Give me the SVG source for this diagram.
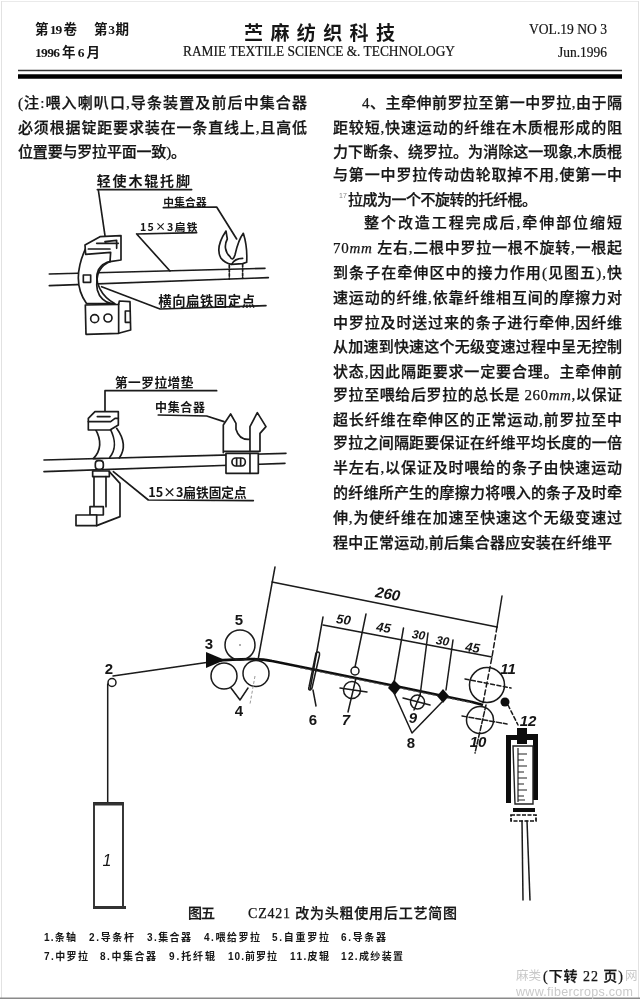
<svg xmlns="http://www.w3.org/2000/svg" width="640" height="1000" viewBox="0 0 640 1000">
<defs>
<filter id="scan" x="0" y="0" width="1" height="1"><feGaussianBlur stdDeviation="0.42"/></filter>
</defs>
<style>
text{fill:#141414}
.b{font-family:"Liberation Serif","Noto Sans CJK SC",serif;font-size:15px;font-weight:500;stroke:#141414;stroke-width:.25}
.b .m{font-style:italic}
.h{font-family:"Liberation Serif","Noto Sans CJK SC",serif;font-size:13.500px;font-weight:700}
.s{font-family:"Liberation Serif",serif;font-size:14px;font-weight:400;stroke:#141414;stroke-width:.2}
.t{font-family:"Noto Sans CJK SC",serif;font-size:19px;font-weight:700}
.c{font-family:"Liberation Serif","Noto Sans CJK SC",serif;font-size:14px;font-weight:500;stroke:#141414;stroke-width:.25}
.l{font-family:"Liberation Sans","Noto Sans CJK SC",sans-serif;font-size:10px;font-weight:700}
.n{font-family:"Liberation Sans",sans-serif;font-size:15px;font-weight:700;text-anchor:middle}
.i{font-style:italic}
.hw{font-family:"Noto Sans CJK SC",sans-serif;font-weight:700;font-size:42px}
.wm{font-family:"Liberation Sans","Noto Sans CJK SC",sans-serif;font-size:12.5px;fill:#c9c9c9}
.k{fill:none;stroke:#1a1a1a;stroke-width:1.5;stroke-linecap:round;stroke-linejoin:round}
.k3{fill:none;stroke:#1a1a1a;stroke-width:5;stroke-linecap:round;stroke-linejoin:round}
.w3{fill:#fff;stroke:#1a1a1a;stroke-width:5;stroke-linejoin:round}
.d{stroke-dasharray:5 3}
.f{fill:#111;stroke:none}
</style>
<rect width="640" height="1000" fill="#fff"/>
<g filter="url(#scan)">
<g id="page-frame">
<path d="M1 1H639" stroke="#d5d5d5" fill="none"/>
<path d="M1.500 1V998" stroke="#e2e2e2" fill="none"/>
<path d="M638.500 1V998" stroke="#e2e2e2" fill="none"/>
<path d="M0 998.500H640" stroke="#8a8a8a" stroke-width="2" fill="none"/>
</g>
<g id="header">
<text class="h" x="35" y="34" textLength="42">第 19 卷</text>
<text class="h" x="94" y="34" textLength="35">第 3 期</text>
<text class="h" x="35" y="57" textLength="65">1996 年 6 月</text>
<text class="t" x="244" y="40" textLength="151">苎麻纺织科技</text>
<text class="s" x="183" y="56" textLength="272" lengthAdjust="spacingAndGlyphs">RAMIE TEXTILE SCIENCE &amp;. TECHNOLOGY</text>
<text class="s" x="529" y="34" textLength="78" lengthAdjust="spacingAndGlyphs">VOL.19 NO 3</text>
<text class="s" x="558" y="57" textLength="49" lengthAdjust="spacingAndGlyphs">Jun.1996</text>
<path d="M18 70.500H622" stroke="#333" stroke-width="1.600" fill="none"/>
<path d="M18 76.500H622" stroke="#000" stroke-width="4.600" fill="none"/>
</g>
<g id="body-left">
<text class="b" x="18" y="108" textLength="289">(注:喂入喇叭口,导条装置及前后中集合器</text>
<text class="b" x="18" y="133" textLength="289">必须根据锭距要求装在一条直线上,且高低</text>
<text class="b" x="18" y="157" textLength="168">位置要与罗拉平面一致)。</text>
</g>
<g id="body-right">
<text class="b" x="362" y="108" textLength="260">4、主牵伸前罗拉至第一中罗拉,由于隔</text>
<text class="b" x="333" y="133" textLength="289">距较短,快速运动的纤维在木质棍形成的阻</text>
<text class="b" x="333" y="157" textLength="289">力下断条、绕罗拉。为消除这一现象,木质棍</text>
<text class="b" x="333" y="180" textLength="289">与第一中罗拉传动齿轮取掉不用,使第一中</text>
<text x="339" y="198" style="font-family:'Liberation Sans',sans-serif;font-size:7px;fill:#888">17</text>
<text class="b" x="348" y="205" textLength="189">拉成为一个不旋转的托纤棍。</text>
<text class="b" x="364" y="228" textLength="258">整个改造工程完成后,牵伸部位缩短</text>
<text class="b" x="333" y="253" textLength="289">70<tspan class="m">mm</tspan> 左右,二根中罗拉一根不旋转,一根起</text>
<text class="b" x="333" y="278" textLength="289">到条子在牵伸区中的接力作用(见图五),快</text>
<text class="b" x="333" y="303" textLength="289">速运动的纤维,依靠纤维相互间的摩擦力对</text>
<text class="b" x="333" y="328" textLength="289">中罗拉及时送过来的条子进行牵伸,因纤维</text>
<text class="b" x="333" y="352" textLength="289">从加速到快速这个无级变速过程中呈无控制</text>
<text class="b" x="333" y="377" textLength="289">状态,因此隔距要求一定要合理。主牵伸前</text>
<text class="b" x="333" y="400" textLength="289">罗拉至喂给后罗拉的总长是 260<tspan class="m">mm</tspan>,以保证</text>
<text class="b" x="333" y="425" textLength="289">超长纤维在牵伸区的正常运动,前罗拉至中</text>
<text class="b" x="333" y="448" textLength="289">罗拉之间隔距要保证在纤维平均长度的一倍</text>
<text class="b" x="333" y="473" textLength="289">半左右,以保证及时喂给的条子由快速运动</text>
<text class="b" x="333" y="498" textLength="289">的纤维所产生的摩擦力将喂入的条子及时牵</text>
<text class="b" x="333" y="523" textLength="289">伸,为使纤维在加速至快速这个无级变速过</text>
<text class="b" x="333" y="548" textLength="279">程中正常运动,前后集合器应安装在纤维平</text>
</g>

<g id="figure-upper" transform="translate(20 165) scale(.3333)">
<g id="upper-labels">
<text class="hw" x="230" y="62" textLength="280">轻使木辊托脚</text>
<text class="hw" x="430" y="122" textLength="130" style="font-size:32px">中集合器</text>
<text class="hw" x="360" y="198" textLength="172" style="font-size:32px">15×3扁铁</text>
<text class="hw" x="415" y="424" textLength="290" style="font-size:40px">横向扁铁固定点</text>
</g>
<g id="upper-leaders">
<path class="k3" d="M232 74H515M235 75L255 212M430 128L590 126L650 222M350 207L530 203M350 207L450 318M420 432L738 422M420 432L245 365"/>
</g>
<g id="upper-rods">
<path class="k3" d="M88 327L735 310M88 362L745 338"/>
</g>
<g id="upper-stand">
<path class="w3" d="M197 250C165 320 170 375 200 416L285 416C245 395 220 350 235 315C245 295 265 290 275 288L275 255Z"/>
<path class="k3" d="M275 288C240 300 225 330 232 375C238 398 255 412 272 415M190 345V330H212V352H190Z"/>
<path class="w3" d="M195 240L240 215L303 212V285L270 290L272 262L197 268Z"/>
<path class="k3" d="M230 235H295M255 230L290 226L290 250M205 252H270"/>
<path class="w3" d="M196 420L296 418L298 408L330 410L332 495L296 505L198 508Z"/>
<path class="k3" d="M296 418V505M330 438H316V472H330"/>
<circle class="k3" cx="224" cy="461" r="12"/>
<circle class="k3" cx="264" cy="459" r="12"/>
</g>
<g id="upper-collector">
<path class="k3" d="M628 300V342M668 298V340" stroke-dasharray="8 5"/>
<path class="w3" d="M618 198C600 225 590 255 602 278C612 292 625 296 635 298L668 296L680 292C682 260 678 230 670 205C655 225 650 248 645 270C640 285 635 285 630 275C615 262 612 240 622 222Z"/>
<path class="k3" d="M635 298C640 288 650 280 668 280"/>
</g>
</g>

<g id="figure-lower" transform="translate(20 360) scale(.3333)">
<g id="lower-labels">
<text class="hw" x="285" y="80" textLength="235" style="font-size:38px">第一罗拉增垫</text>
<text class="hw" x="405" y="157" textLength="150" style="font-size:36px">中集合器</text>
<text class="hw" x="385" y="410" textLength="295" style="font-size:38px">15×3扁铁固定点</text>
</g>
<g id="lower-leaders">
<path class="k3" d="M255 92H590M255 92V155M415 165L560 168L612 185M385 420L700 422M385 420L280 335"/>
</g>
<g id="lower-rods">
<path class="k3" d="M72 300L798 280M72 335L795 310"/>
</g>
<g id="lower-stand">
<path class="w3" d="M225 205C248 245 240 275 220 296L268 294C292 265 285 235 270 205Z"/>
<path class="k3" d="M290 205C315 240 315 270 298 294"/>
<path class="w3" d="M205 175L225 155H295V195L270 210H205Z"/>
<path class="k3" d="M205 185H272L285 175H295M232 170H270"/>
<rect class="w3" x="226" y="302" width="24" height="26" rx="9"/>
<path class="w3" d="M218 333H268V350H218Z"/>
<path class="k3" d="M268 335L300 370V470L230 497M222 350V440M258 350V440"/>
<path class="w3" d="M210 440H250V465H210Z"/>
<path class="w3" d="M168 465H230V497H168Z"/>
</g>
<g id="lower-collector">
<path class="w3" d="M618 280H715V340H618Z"/>
<path class="k3" d="M690 280V340"/>
<rect class="k3" x="636" y="294" width="40" height="24" rx="11"/>
<path class="k3" d="M650 296V316M662 296V316"/>
<path class="w3" d="M610 278V195L632 162L648 190V208C655 232 672 240 690 238V274H720V220L738 200L712 158L690 200V238V274H610Z"/>
</g>
</g>

<g id="connectors">
<path class="k" d="M113 676L210 662" stroke-width="1.800"/>
<path class="k" d="M107.700 684V803" stroke-width="2"/>
<path d="M213 661C235 659 260 658 272 661L400 687L472 702L483 705" fill="none" stroke="#111" stroke-width="2.800"/>
<path d="M300 668L472 703" fill="none" stroke="#777" stroke-width="1" stroke-dasharray="3 2"/>
<path class="k" d="M508 705L518 725" stroke-dasharray="4 2.500"/>
<g id="dimensions">
<path class="k" d="M272 582L497 627"/>
<path class="k" d="M275 567L258 660"/>
<path class="k" d="M502 596L497 627"/>
<path class="k d" d="M497 627L492 657L483 703"/>
<path class="k" d="M323 625L492 657"/>
<path class="k" d="M323 617L310 690"/>
<path class="k" d="M366 614L355 667"/>
<path class="k" d="M403.500 628L394 683"/>
<path class="k" d="M428 633L420 696"/>
<path class="k" d="M453 640L446 690"/>
</g>
</g>

<g id="node-1-sliver-can">
<path d="M94 803H123V907H94Z" fill="#fff" stroke="#222" stroke-width="1.800"/>
<path d="M93 804H124" stroke="#333" stroke-width="3"/>
<path d="M93 907.500H126" stroke="#333" stroke-width="3"/>
<text class="n i" x="107" y="866" style="font-weight:400;font-size:16px">1</text>
</g>
<g id="node-2-guide-bar">
<circle class="k" cx="112" cy="682.500" r="4" stroke-width="1.900"/>
<text class="n" x="109" y="674">2</text>
</g>
<g id="node-3-collector">
<path class="f" d="M206 652L225 660L206 668Z"/>
<text class="n" x="209" y="649">3</text>
</g>
<g id="node-5-self-weight-roller">
<circle class="k" cx="240" cy="645" r="15" stroke-width="2"/>
<circle class="f" cx="240" cy="645" r=".7"/>
<text class="n" x="239" y="625">5</text>
</g>
<g id="node-4-feed-rollers">
<circle class="k" cx="224" cy="676" r="13" stroke-width="2"/>
<circle class="k" cx="256" cy="673.500" r="13" stroke-width="2"/>
<path class="k" d="M231 688L240 700L248 688"/>
<path d="M255 676L250 704" fill="none" stroke="#999" stroke-dasharray="3 2"/>
<text class="n" x="239" y="716">4</text>
</g>
<g id="node-6-sliver-guide">
<path class="k" d="M316 653C318 651 320 652 319.500 655L312 688C310 691 308 690 309 687Z"/>
<path class="k" d="M313 690L316 706" stroke-width="2.400"/>
<text class="n" x="313" y="725">6</text>
</g>
<g id="node-7-middle-roller">
<circle class="k" cx="355" cy="671" r="4"/>
<circle class="k" cx="352" cy="690" r="8.500" stroke-width="1.700"/>
<path class="k" d="M340 688L367 692M356 678L348 712"/>
<text class="n i" x="346" y="725">7</text>
</g>
<g id="node-8-middle-collectors">
<path class="f" d="M394 680L401 687L395 695L388 688Z"/>
<path class="f" d="M443 689L449 696L443 703L437 696Z"/>
<path class="k" d="M394 693L412 733L442 702"/>
<text class="n" x="411" y="748">8</text>
</g>
<g id="node-9-support-bar">
<circle class="k" cx="417.500" cy="702" r="7" stroke-width="1.700"/>
<path class="k" d="M403 698L430 705M420 695L414 710"/>
<text class="n i" x="413" y="723">9</text>
</g>
<g id="node-11-top-roller">
<circle class="k" cx="487" cy="685" r="17.500" stroke-width="2.200"/>
<path class="k" d="M465 679L511 688" stroke-dasharray="4 2.500"/>
<text class="n i" x="508" y="674">11</text>
</g>
<g id="node-10-front-roller">
<circle class="k" cx="480" cy="720" r="13.500" stroke-width="2.200"/>
<path class="k" d="M462 716L507 724M486 705L475 753" stroke-dasharray="5 2"/>
<text class="n i" x="478" y="747">10</text>
<circle class="f" cx="505" cy="702" r="4.500"/>
</g>
<g id="node-12-spinning-device">
<path class="f" d="M517 728H527V734H538V800H533V740H527V744H517V740H511V803H506V735H517Z"/>
<path d="M513 746H533V804H515Z" fill="#fff" stroke="#222" stroke-width="1.400"/>
<path d="M518 748V802" stroke="#222" stroke-width="1.200" fill="none"/>
<path d="M518 754H527M518 760H524M518 766H527M518 772H524M518 778H527M518 784H524M518 790H527M518 796H524M518 800H525" stroke="#222" fill="none" stroke-width="1.200"/>
<path class="f" d="M513 808H535V812H513Z"/>
<path d="M511 815H536V821H511Z" fill="#fff" stroke="#111" stroke-width="1.700" stroke-dasharray="4 1.500"/>
<path class="k" d="M522 821L523 900M527 821L530 900"/>
<text class="n i" x="528" y="726">12</text>
</g>
<g id="dimension-labels">
<text class="n i" transform="translate(387 599) rotate(9)">260</text>
<text class="n i" transform="translate(343 624) rotate(8)" style="font-size:13px">50</text>
<text class="n i" transform="translate(383 632) rotate(8)" style="font-size:13px">45</text>
<text class="n i" transform="translate(418 639) rotate(8)" style="font-size:12px">30</text>
<text class="n i" transform="translate(442 645) rotate(8)" style="font-size:12px">30</text>
<text class="n i" transform="translate(472 652) rotate(8)" style="font-size:13px">45</text>
</g>
<g id="caption">
<text class="c" x="188" y="918" textLength="27">图五</text>
<text class="c" x="248" y="918" textLength="209">CZ421 改为头粗使用后工艺简图</text>
<text class="l" x="44" y="941" textLength="32">1.条轴</text>
<text class="l" x="89" y="941" textLength="45">2.导条杆</text>
<text class="l" x="147" y="941" textLength="44">3.集合器</text>
<text class="l" x="204" y="941" textLength="56">4.喂给罗拉</text>
<text class="l" x="272" y="941" textLength="57">5.自重罗拉</text>
<text class="l" x="341" y="941" textLength="45">6.导条器</text>
<text class="l" x="44" y="960" textLength="44">7.中罗拉</text>
<text class="l" x="100" y="960" textLength="56">8.中集合器</text>
<text class="l" x="169" y="960" textLength="46">9.托纤辊</text>
<text class="l" x="228" y="960" textLength="49">10.前罗拉</text>
<text class="l" x="290" y="960" textLength="39">11.皮辊</text>
<text class="l" x="341" y="960" textLength="62">12.成纱装置</text>
</g>
<g id="footer">
<text class="wm" x="516" y="980" textLength="25">麻类</text>
<text class="wm" x="625" y="980" textLength="9">网</text>
<text class="wm" x="516" y="996" textLength="117">www.fibercrops.com</text>
<text class="c" x="543" y="981" textLength="80">(下转 22 页)</text>
</g>
</g>
</svg>
